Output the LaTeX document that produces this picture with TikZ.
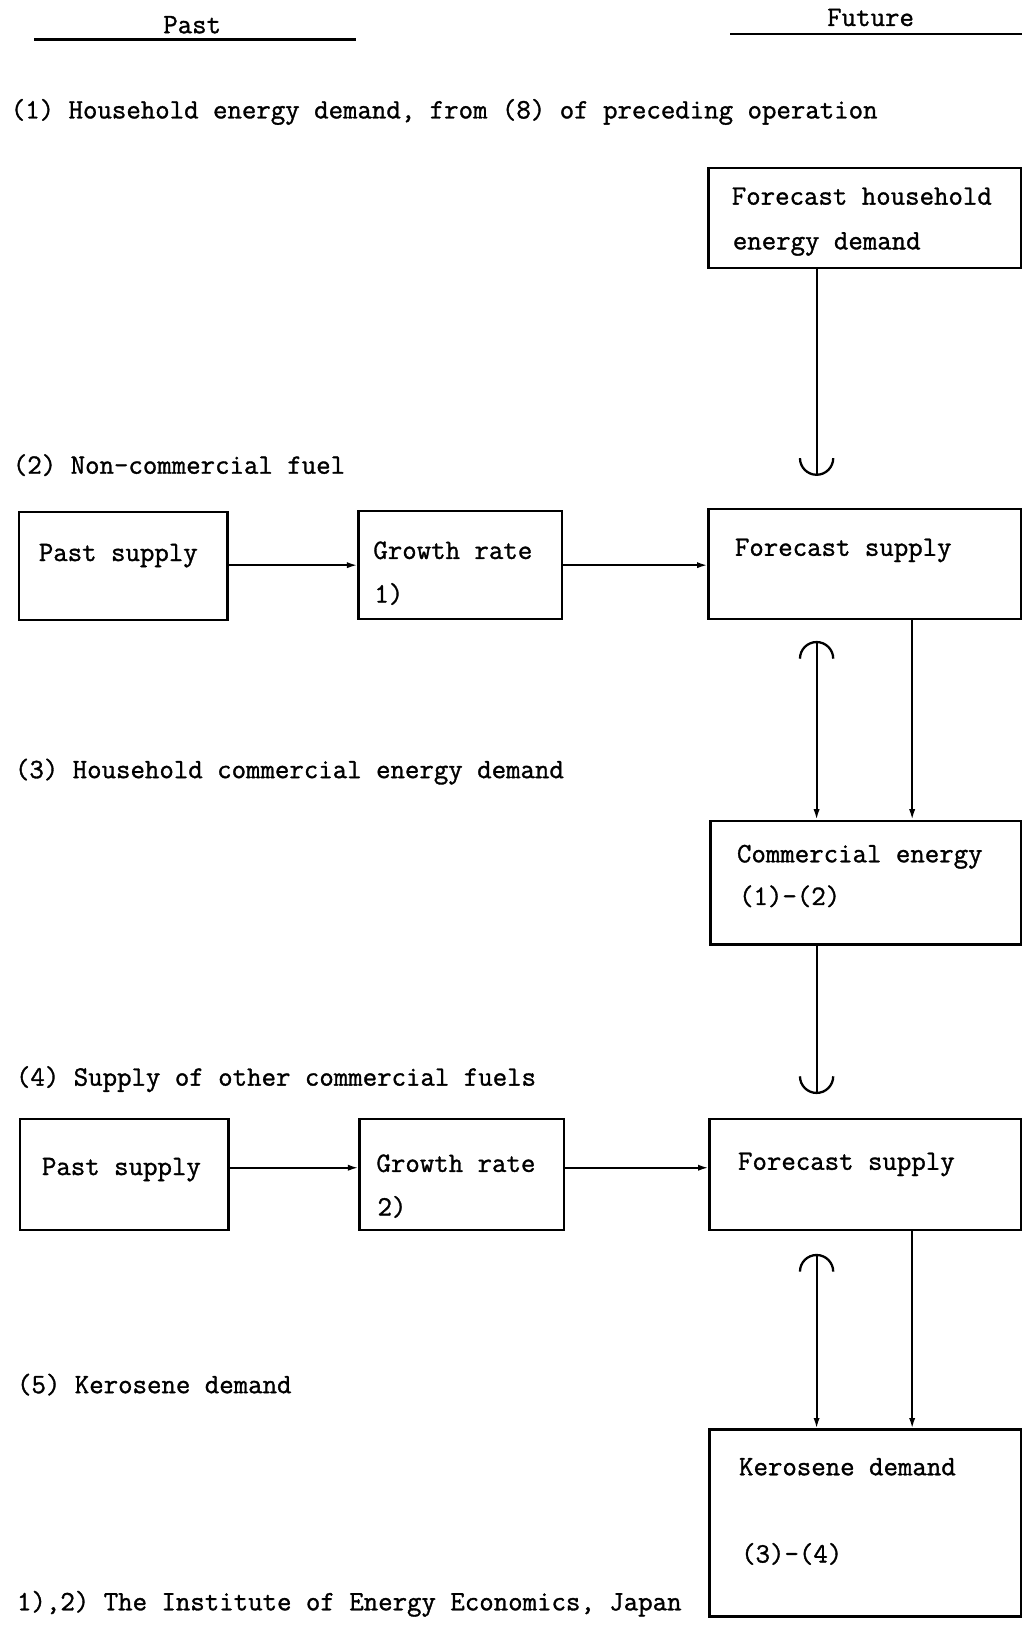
\documentclass[tikz,border=0pt]{standalone}
\usepackage{fontspec}
\newfontfamily\twfont{Latin Modern Mono}[FakeBold=1.2]
\usetikzlibrary{arrows.meta,fit}
\begin{document}
\begin{tikzpicture}[x=0.5pt,y=-0.5pt,
  box/.style={draw, line width=1.1pt, inner sep=0pt, fit={#1}},
  lab/.style={anchor=base west, inner sep=0pt, font=\twfont\fontsize{13.5}{16}\selectfont},
  arr/.style={line width=0.9pt, -{Latex[length=5pt,width=3pt]}},
  conn/.style={line width=0.9pt},
  tip/.style={line width=1.1pt}]
\useasboundingbox (0,0) rectangle (984,1568);
% headings
\node[lab, anchor=base] (past) at (185,32) {Past};
\node[lab, anchor=base] (future) at (838,25) {Future};
\draw[line width=1.1pt] (33,38) -- (343,38);
\draw[line width=1.1pt] (703,33) -- (984,33);
% section labels
\node[lab] (s1) at (10,114) {(1) Household energy demand, from (8) of preceding operation};
\node[lab] (s2) at (12,456) {(2) Non-commercial fuel};
\node[lab] (s3) at (14,749) {(3) Household commercial energy demand};
\node[lab] (s4) at (15,1045) {(4) Supply of other commercial fuels};
\node[lab] (s5) at (16,1341) {(5) Kerosene demand};
\node[lab] (fn) at (16,1550) {1),2) The Institute of Energy Economics, Japan};
% boxes
\node[box={(682,162) (983,258)}] (hh) {};
\node[box={(18,493) (219,597)}] (ps1) {};
\node[box={(345,492) (541,596)}] (gr1) {};
\node[box={(682,490) (983,596)}] (fs1) {};
\node[box={(684,790) (983,909)}] (ce) {};
\node[box={(19,1077) (220,1184)}] (ps2) {};
\node[box={(346,1077) (543,1184)}] (gr2) {};
\node[box={(683,1077) (983,1184)}] (fs2) {};
\node[box={(683,1376) (983,1556)}] (ke) {};
% box texts
\node[lab] (hht1) at (704,197) {Forecast household};
\node[lab] (hht2) at (705,240) {energy demand};
\node[lab] (ps1t) at (37,540) {Past supply};
\node[lab] (gr1t1) at (359,538) {Growth rate};
\node[lab] (gr1t2) at (360,580) {1)};
\node[lab] (fs1t) at (707,535) {Forecast supply};
\node[lab] (cet1) at (709,830) {Commercial energy};
\node[lab] (cet2) at (711,871) {(1)-(2)};
\node[lab] (ps2t) at (40,1131) {Past supply};
\node[lab] (gr2t1) at (362,1128) {Growth rate};
\node[lab] (gr2t2) at (363,1170) {2)};
\node[lab] (fs2t) at (710,1126) {Forecast supply};
\node[lab] (ket1) at (711,1420) {Kerosene demand};
\node[lab] (ket2) at (713,1504) {(3)-(4)};
% helper coordinates
\coordinate (cup1) at (786,457);
\coordinate (cap1) at (786,618);
\coordinate (r1) at (878,700);
\coordinate (cup2) at (786,1052);
\coordinate (cap2) at (786,1208);
\coordinate (r2) at (878,1300);
% horizontal arrows
\draw[arr] (ps1.east |- 0,544) -- (gr1.west |- 0,544);
\draw[arr] (gr1.east |- 0,544) -- (fs1.west |- 0,544);
\draw[arr] (ps2.east |- 0,1124) -- (gr2.west |- 0,1124);
\draw[arr] (gr2.east |- 0,1124) -- (fs2.west |- 0,1124);
% vertical connectors
\draw[conn] (hh.south -| cup1) -- (cup1);
\draw[tip] ([xshift=-16*0.5pt, yshift=16*0.5pt]cup1) arc[start angle=180, end angle=0, radius=16];
\draw[arr] (cap1) -- (cap1 |- ce.north);
\draw[tip] ([xshift=-16*0.5pt, yshift=-16*0.5pt]cap1) arc[start angle=180, end angle=360, radius=16];
\draw[arr] (fs1.south -| r1) -- (ce.north -| r1);
\draw[conn] (ce.south -| cup2) -- (cup2);
\draw[tip] ([xshift=-16*0.5pt, yshift=16*0.5pt]cup2) arc[start angle=180, end angle=0, radius=16];
\draw[arr] (cap2) -- (cap2 |- ke.north);
\draw[tip] ([xshift=-16*0.5pt, yshift=-16*0.5pt]cap2) arc[start angle=180, end angle=360, radius=16];
\draw[arr] (fs2.south -| r2) -- (ke.north -| r2);
\end{tikzpicture}
\end{document}
